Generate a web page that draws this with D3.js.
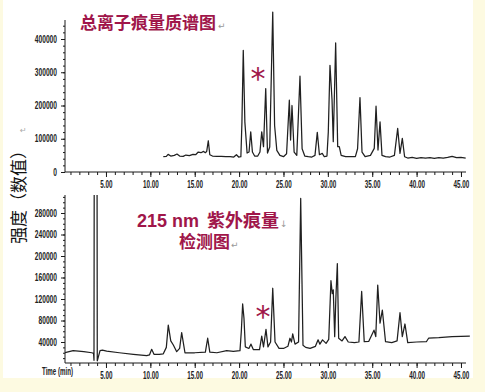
<!DOCTYPE html>
<html><head><meta charset="utf-8">
<script src="https://cdn.jsdelivr.net/npm/d3@7"></script>
<style>
html,body{margin:0;padding:0;background:#fdfae1;}
svg{display:block;}
</style></head>
<body>
<script>
// ---------- DATA ----------
const ticTime = [11.46,11.8,12.0,12.3,12.7,13.0,13.3,13.7,14.0,14.4,14.8,15.1,15.4,15.7,16.0,16.2,16.35,16.53,16.7,17.0,17.5,18.0,18.5,19.0,19.4,19.7,19.95,20.2,20.32,20.47,20.65,20.9,21.12,21.31,21.5,21.75,22.1,22.35,22.55,22.75,23.0,23.2,23.45,23.79,24.0,24.25,24.6,25.0,25.35,25.66,25.8,25.96,26.2,26.5,26.86,27.1,27.4,27.8,28.2,28.55,28.81,29.05,29.37,29.6,29.9,30.05,30.24,30.47,30.61,30.88,31.11,31.29,31.5,32.0,32.6,33.1,33.35,33.62,33.85,34.2,34.8,35.23,35.43,35.65,35.88,36.1,36.5,37.0,37.5,37.87,38.13,38.39,38.65,39.0,39.5,40.0,40.5,41.0,41.5,42.0,42.5,43.0,43.5,44.0,44.5,45.0,45.53];
const ticValue = [46000,47000,53000,48000,50000,54000,48000,47000,51000,49000,53000,52000,60000,58000,62000,58000,62000,94000,52000,48000,47000,47000,46000,46000,45000,52000,45000,46000,150000,366000,150000,57000,60000,121000,60000,48000,48000,60000,121000,76000,251000,57000,75000,481000,140000,65000,50000,46000,55000,216000,96000,200000,60000,50000,288000,70000,48000,46000,45000,50000,119000,52000,56000,46000,48000,120000,321000,218000,91000,388000,76000,76000,50000,46000,46000,46000,70000,224000,60000,46000,50000,71000,198000,66000,151000,50000,46000,45000,50000,131000,56000,101000,46000,42000,44000,41000,43000,42000,43000,41000,43000,42000,44000,47000,43000,44000,42000];

const uvTime = [0.38,1.3,2.5,3.4,3.6,3.65,3.7,3.97,4.02,4.33,4.6,5.08,6.5,8.08,9.59,9.9,10.15,10.41,11.0,11.46,11.8,12.02,12.3,12.59,12.97,13.3,13.53,13.9,15.0,16.2,16.46,16.7,17.5,18.6,19.35,20.1,20.25,20.4,20.55,20.7,21.1,21.34,21.6,22.3,22.55,22.75,23.03,23.25,23.55,23.79,24.05,24.5,25.0,25.5,25.73,25.9,26.04,26.3,26.7,26.94,27.2,27.5,28.0,28.6,28.9,29.1,29.4,29.8,30.1,30.35,30.5,30.61,30.77,30.9,31.07,31.22,31.6,31.93,32.3,33.0,33.5,33.81,34.1,34.6,35.2,35.4,35.62,35.88,36.14,36.5,37.2,37.8,38.13,38.39,38.69,39.0,40.0,41.1,41.35,42.5,44.0,46.0];
const uvValue = [20000,24000,22000,20000,19000,6000,700000,700000,5000,24000,25000,23000,20000,17000,14500,16000,26400,17000,17000,18000,30000,71600,42000,34400,22000,28000,57300,20000,20000,21000,47000,21000,20000,24000,22500,24000,60000,110700,84000,31000,28000,36000,26000,26000,51000,31000,63600,31000,40000,140000,40000,28000,28000,32000,47000,40000,55000,36000,40000,307000,34000,30000,28000,32000,44000,36000,44000,37500,45000,154000,130000,137000,50000,120000,186000,47000,42000,50000,40000,39000,40000,134000,40500,41000,62000,50000,146000,75000,99500,40500,39000,42000,94500,50000,73500,39000,40000,40500,47000,48000,50000,51000];

const xTickLabels = ["5.00","10.00","15.00","20.00","25.00","30.00","35.00","40.00","45.00"];
const xTickValues = [5,10,15,20,25,30,35,40,45];
const topYTickValues = [0,100000,200000,300000,400000];
const topYTickLabels = ["0","100000","200000","300000","400000"];
const botYTickValues = [40000,80000,120000,160000,200000,240000,280000];
const botYTickLabels = ["40000","80000","120000","160000","200000","240000","280000"];

const title1 = "总离子痕量质谱图";
const title2num = "215 nm";
const title2a = "紫外痕量";
const title2b = "检测图";
const yTitle = "强度（数值）";
const xTitle = "Time (min)";

// ---------- DRAW ----------
const W = 485, H = 392;
const svg = d3.select("body").append("svg").attr("width", W).attr("height", H);
svg.append("rect").attr("x",0).attr("y",0).attr("width",W).attr("height",H).attr("fill","#fdfae1");
svg.append("rect").attr("x",3).attr("y",0).attr("width",470).attr("height",378).attr("fill","#ffffff");

const x = d3.scaleLinear().domain([0,45]).range([61.6, 61.6 + 8.875*45]);
const yTop = d3.scaleLinear().domain([0,400000]).range([172,39]);
const yBot = d3.scaleLinear().domain([0,280000]).range([363.5,213]);

const axisLeftX = 65, axisRightX = 466;
const ink = "#1a1a1a";
const crimson = "#a0164a";

function compress(sel, perDigit){
  sel.each(function(){
    const t = d3.select(this).text();
    let len = 0;
    for (const c of t){ len += (c === ".") ? perDigit*0.5 : perDigit; }
    d3.select(this).attr("textLength", len).attr("lengthAdjust","spacingAndGlyphs");
  });
}

function drawPanel(yScale, yTopPx, xAxisY, yVals, yLabels, minorStep, yMax, tracesT, tracesV, clipTop){
  svg.append("line").attr("x1",axisLeftX).attr("x2",axisLeftX).attr("y1",yTopPx).attr("y2",xAxisY)
    .attr("stroke",ink).attr("stroke-width",1);
  svg.append("line").attr("x1",axisLeftX).attr("x2",axisRightX).attr("y1",xAxisY).attr("y2",xAxisY)
    .attr("stroke",ink).attr("stroke-width",1);

  const minorVals = d3.range(minorStep, yMax, minorStep).filter(v => yScale(v) >= yTopPx);
  const gmin = svg.append("g").attr("transform",`translate(${axisLeftX},0)`)
    .call(d3.axisLeft(yScale).tickValues(minorVals).tickSize(2).tickFormat(""));
  gmin.select(".domain").remove();
  gmin.selectAll("line").attr("stroke",ink);
  const gy = svg.append("g").attr("transform",`translate(${axisLeftX},0)`)
    .call(d3.axisLeft(yScale).tickValues(yVals).tickSize(4).tickPadding(4)
      .tickFormat((d,i) => yLabels[i]));
  gy.select(".domain").remove();
  gy.selectAll("line").attr("stroke",ink);
  gy.selectAll("text").attr("font-family","Liberation Sans, Arial, sans-serif")
    .attr("font-size",10).attr("font-weight","bold").attr("fill","#222");
  compress(gy.selectAll("text"), 3.7);

  const gxm = svg.append("g").attr("transform",`translate(0,${xAxisY})`)
    .call(d3.axisBottom(x).tickValues(d3.range(1,46,1)).tickSize(3).tickFormat(""));
  gxm.select(".domain").remove();
  gxm.selectAll("line").attr("stroke",ink);
  const gx = svg.append("g").attr("transform",`translate(0,${xAxisY})`)
    .call(d3.axisBottom(x).tickValues(xTickValues).tickSize(5).tickPadding(4)
      .tickFormat((d,i) => xTickLabels[i]));
  gx.select(".domain").remove();
  gx.selectAll("line").attr("stroke",ink);
  gx.selectAll("text").attr("font-family","Liberation Sans, Arial, sans-serif")
    .attr("font-size",10).attr("font-weight","bold").attr("fill","#222");
  compress(gx.selectAll("text"), 3.5);

  const clipId = "clip" + Math.round(xAxisY);
  svg.append("clipPath").attr("id",clipId).append("rect")
    .attr("x",axisLeftX).attr("y",clipTop).attr("width",axisRightX-axisLeftX+5).attr("height",xAxisY-clipTop);
  const pts = tracesT.map((t,i)=>[t,tracesV[i]]);
  const line = d3.line().x(d=>x(d[0])).y(d=>yScale(d[1]));
  svg.append("path").datum(pts).attr("d",line).attr("fill","none")
    .attr("stroke","#202020").attr("stroke-width",1.25).attr("stroke-linejoin","round")
    .attr("clip-path", `url(#${clipId})`);
}

drawPanel(yTop, 20, 172, topYTickValues, topYTickLabels, 20000, 460000, ticTime, ticValue, 0);
drawPanel(yBot, 195, 363, botYTickValues, botYTickLabels, 10000, 320000, uvTime, uvValue, 195);

// Titles
const cjkFont = "Noto Sans CJK SC, sans-serif";
const t1 = svg.append("text").attr("x",80).attr("y",29)
  .attr("font-family",cjkFont).attr("font-weight","bold").attr("font-size",17).attr("fill",crimson);
t1.append("tspan").text(title1);
t1.append("tspan").attr("dx",2).attr("font-family","DejaVu Sans").attr("font-weight","normal")
  .attr("font-size",9).attr("fill","#999").text("↵");

const t2 = svg.append("text").attr("x",137).attr("y",227)
  .attr("font-weight","bold").attr("font-size",18).attr("fill",crimson);
t2.append("tspan").attr("font-family","Liberation Sans, Arial, sans-serif").text(title2num);
t2.append("tspan").attr("dx",8).attr("font-family",cjkFont).text(title2a);
t2.append("tspan").attr("dx",1).attr("font-family","DejaVu Sans").attr("font-weight","normal")
  .attr("font-size",9).attr("fill","#999").text("↓");

const t3 = svg.append("text").attr("x",179).attr("y",248)
  .attr("font-family",cjkFont).attr("font-weight","bold").attr("font-size",17).attr("fill",crimson);
t3.append("tspan").text(title2b);
t3.append("tspan").attr("dx",1).attr("font-family","DejaVu Sans").attr("font-weight","normal")
  .attr("font-size",9).attr("fill","#999").text("↵");

// asterisks
svg.append("text").attr("x",258).attr("y",89).attr("text-anchor","middle").text("*")
  .attr("font-family","DejaVu Sans").attr("font-size",30).attr("fill",crimson);
svg.append("text").attr("x",263).attr("y",327).attr("text-anchor","middle").text("*")
  .attr("font-family","DejaVu Sans").attr("font-size",30).attr("fill",crimson);

// Y title
svg.append("text").attr("transform","translate(25,193) rotate(-90)").attr("text-anchor","middle")
  .text(yTitle).attr("font-family",cjkFont).attr("font-size",17).attr("fill","#111");
svg.append("text").attr("x",20).attr("y",133).text("↵")
  .attr("font-family","DejaVu Sans").attr("font-size",8).attr("fill","#aaa");

// X title
svg.append("text").attr("x",42).attr("y",375).text(xTitle)
  .attr("font-family","Liberation Sans, Arial, sans-serif").attr("font-size",10).attr("font-weight","bold").attr("fill","#222")
  .attr("textLength",31).attr("lengthAdjust","spacingAndGlyphs");
</script>
</body></html>
